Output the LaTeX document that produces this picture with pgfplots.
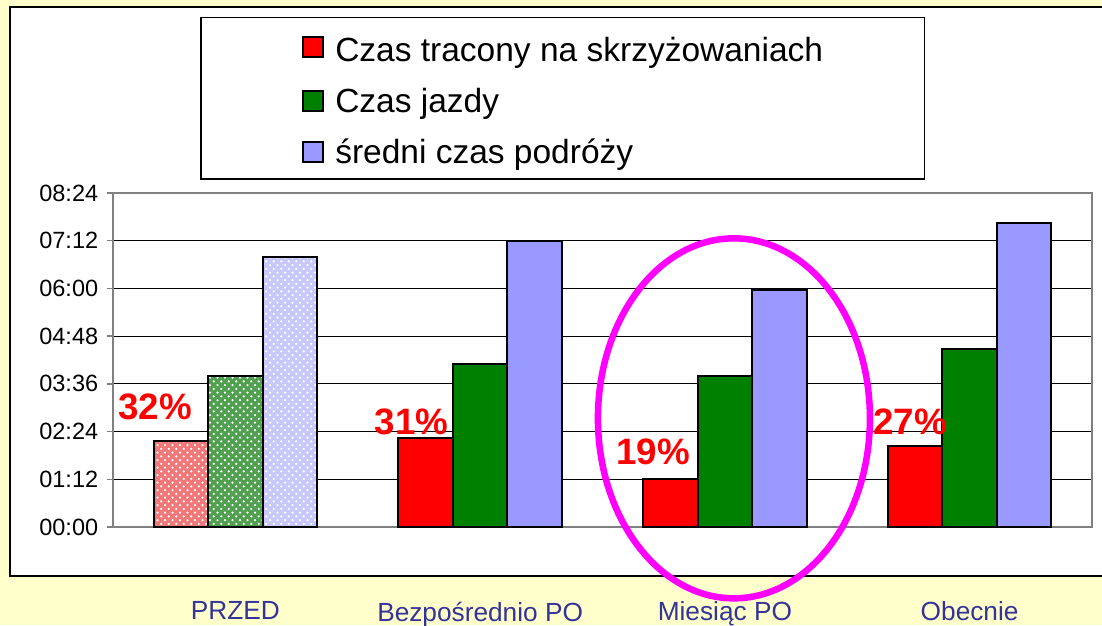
\documentclass[border=0pt]{standalone}
\usepackage{fontspec}
\setmainfont{Liberation Sans}
\usepackage{pgfplots}
\pgfplotsset{compat=1.18}
\usetikzlibrary{patterns}
\definecolor{bgyellow}{HTML}{FFFFCC}
\definecolor{cred}{HTML}{FF0000}
\definecolor{cgreen}{HTML}{008000}
\definecolor{cblue}{HTML}{9999FF}
\definecolor{lred}{HTML}{F07878}
\definecolor{lgreen}{HTML}{50A050}
\definecolor{lblue}{HTML}{C8C8FF}
\definecolor{catblue}{HTML}{333399}
\definecolor{framegrey}{HTML}{808080}
\definecolor{ring}{HTML}{FF00FF}
\begin{document}
\begin{tikzpicture}
% page: 1102 x 625 px at 0.4pt per px
\fill[bgyellow] (0pt,0pt) rectangle (440.8pt,250pt);
\path[use as bounding box] (0pt,0pt) rectangle (440.8pt,250pt);
\fill[white,draw=black,line width=0.8pt] (4pt,19.6pt) rectangle (460pt,247.2pt);
\pgfplotsset{sq/.style={legend image code/.code={\draw[##1,line width=0.8pt] (0pt,-3.6pt) rectangle (8pt,4.4pt);}}}
\begin{axis}[
  scale only axis,width=391.6pt,height=133.6pt,
  at={(45.2pt,39.2pt)},anchor=south west,
  ybar=0pt,bar width=21.8pt,
  xmin=-0.5,xmax=3.5,ymin=0,ymax=504,
  xtick={0,1,2,3},
  xticklabels={PRZED,Bezpośrednio PO,Miesiąc PO,Obecnie},
  xticklabel style={font=\fontsize{10.5}{12}\selectfont,text=catblue,yshift=-24pt},
  x tick style={draw=none},
  ytick={0,72,144,216,288,360,432,504},
  yticklabels={00:00,01:12,02:24,03:36,04:48,06:00,07:12,08:24},
  yticklabel style={font=\fontsize{9.4}{11}\selectfont},
  /pgf/number format/assume math mode=true,
  y tick style={framegrey,line width=0.6pt},
  tick align=outside,major tick length=2.4pt,
  ytick pos=left,
  ymajorgrids,grid style={black,line width=0.4pt},
  axis line style={framegrey,line width=0.9pt},
  clip=false,
  legend style={at={(axis description cs:0.0889,1.527)},anchor=north west,
    draw=black,line width=0.6pt,fill=white,
    inner xsep=40.6pt,inner ysep=2.8pt,row sep=5pt,column sep=4.4pt,
    font=\fontsize{13.4}{16}\selectfont,nodes={inner xsep=0pt}},
  legend cell align=left,
]
% PRZED, lighter dithered bars
\addplot[forget plot,draw=black,line width=0.8pt,fill=lred,postaction={pattern=crosshatch dots,pattern color=white},bar shift=-21.8pt] coordinates {(0,130)};
\addplot[forget plot,draw=black,line width=0.8pt,fill=lgreen,postaction={pattern=crosshatch dots,pattern color=white},bar shift=0pt] coordinates {(0,228)};
\addplot[forget plot,draw=black,line width=0.8pt,fill=lblue,postaction={pattern=crosshatch dots,pattern color=white},bar shift=21.8pt] coordinates {(0,407)};
% remaining periods
\addplot[sq,draw=black,line width=0.8pt,fill=cred,bar shift=-21.8pt] coordinates {(1,134) (2,72) (3,123)};
\addlegendentry{\rule{0pt}{12.8pt}Czas tracony na skrzyżowaniach}
\addplot[sq,draw=black,line width=0.8pt,fill=cgreen,bar shift=0pt] coordinates {(1,246) (2,228) (3,269)};
\addlegendentry{Czas jazdy}
\addplot[sq,draw=black,line width=0.8pt,fill=cblue,bar shift=21.8pt] coordinates {(1,432) (2,358) (3,459)};
\addlegendentry{średni czas podróży}
% share of time lost at intersections
\node[text=cred,font=\bfseries\fontsize{14.7}{16}\selectfont] at (axis cs:-0.328,181) {32\%};
\node[text=cred,font=\bfseries\fontsize{14.7}{16}\selectfont] at (axis cs:0.720,159) {31\%};
\node[text=cred,font=\bfseries\fontsize{14.7}{16}\selectfont] at (axis cs:1.706,114) {19\%};
\node[text=cred,font=\bfseries\fontsize{14.7}{16}\selectfont] at (axis cs:2.756,159) {27\%};
\draw[ring,line width=2.6pt] (axis cs:2.037,164) ellipse [x radius=54.4pt,y radius=72pt];
\end{axis}
\end{tikzpicture}
\end{document}
